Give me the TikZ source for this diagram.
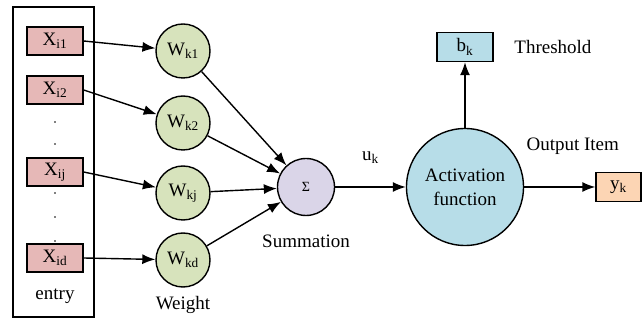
\documentclass[tikz,border=0pt]{standalone}
\usepackage{fontspec}
\setmainfont{Liberation Serif}
\usetikzlibrary{arrows.meta,positioning}

\definecolor{inputred}{RGB}{230,184,183}
\definecolor{weightgreen}{RGB}{215,227,188}
\definecolor{sumpurple}{RGB}{218,213,232}
\definecolor{actblue}{RGB}{183,221,232}
\definecolor{outpeach}{RGB}{252,213,180}

\begin{document}
\begin{tikzpicture}[
    x=1pt, y=-1pt,
    -{Latex[length=13pt,width=10pt]},
    line width=1.4pt,
    font=\fontsize{19}{22}\selectfont,
    input node/.style={rectangle,draw,fill=inputred,minimum width=56pt,minimum height=28pt,inner sep=0pt},
    weight node/.style={circle,draw,fill=weightgreen,minimum size=54pt,inner sep=0pt},
    sum node/.style={circle,draw,fill=sumpurple,minimum size=57pt,inner sep=0pt},
    act node/.style={circle,draw,fill=actblue,minimum size=117pt,inner sep=0pt,align=center,font=\fontsize{19}{24}\selectfont},
    out node/.style={rectangle,draw,fill=#1,minimum height=29pt,inner sep=0pt},
    caption/.style={inner sep=2pt}]

  \useasboundingbox (0,0) rectangle (643,320);

  % entry column
  \node[draw,rectangle,minimum width=81pt,minimum height=310pt,inner sep=0pt] (Entry) at (53.5,162) {};
  \node[input node] (Xi1) at (55,41) {X\textsubscript{i1}};
  \node[input node] (Xi2) at (55,90) {X\textsubscript{i2}};
  \node[input node] (Xij) at (55,172) {X\textsubscript{ij}};
  \node[input node] (Xid) at (55,258) {X\textsubscript{id}};
  \foreach \y in {122,144,193,217,241}
    \fill (55,\y) circle (0.9pt);
  \node[caption] (EntryLabel) [below=13pt of Xid] {entry};

  % weights
  \node[weight node] (Wk1) at (183,51) {W\textsubscript{k1}};
  \node[weight node] (Wk2) at (183,123) {W\textsubscript{k2}};
  \node[weight node] (Wkj) at (183,193) {W\textsubscript{kj}};
  \node[weight node] (Wkd) at (183,260) {W\textsubscript{kd}};
  \node[caption] (WeightLabel) [below=6pt of Wkd] {Weight};

  % summation and activation
  \node[sum node] (Sum) at (306,187) {{\fontsize{14}{16}\selectfont Σ}};
  \node[caption] (SumLabel) [below=16pt of Sum] {Summation};
  \node[act node] (Act) at (465,187) {Activation\\function};
  \node[out node=actblue,minimum width=56pt] (bk) at (465,47) {b\textsubscript{k}};
  \node[caption] (ThresholdLabel) [right=18pt of bk] {Threshold};
  \node[out node=outpeach,minimum width=45pt] (yk) at (618.5,187) {y\textsubscript{k}};

  \path
    (Xi1.east) edge (Wk1)
    (Xi2.east) edge (Wk2)
    (Xij.east) edge (Wkj)
    (Xid.east) edge (Wkd)
    (Wk1) edge (Sum)
    (Wk2) edge (Sum)
    (Wkj) edge (Sum)
    (Wkd) edge (Sum)
    (Sum) edge node[above=19pt] {u\textsubscript{k}} (Act)
    (Act) edge (bk)
    (Act) edge node[above=28pt,xshift=13pt] {Output Item} (yk);

\end{tikzpicture}
\end{document}
